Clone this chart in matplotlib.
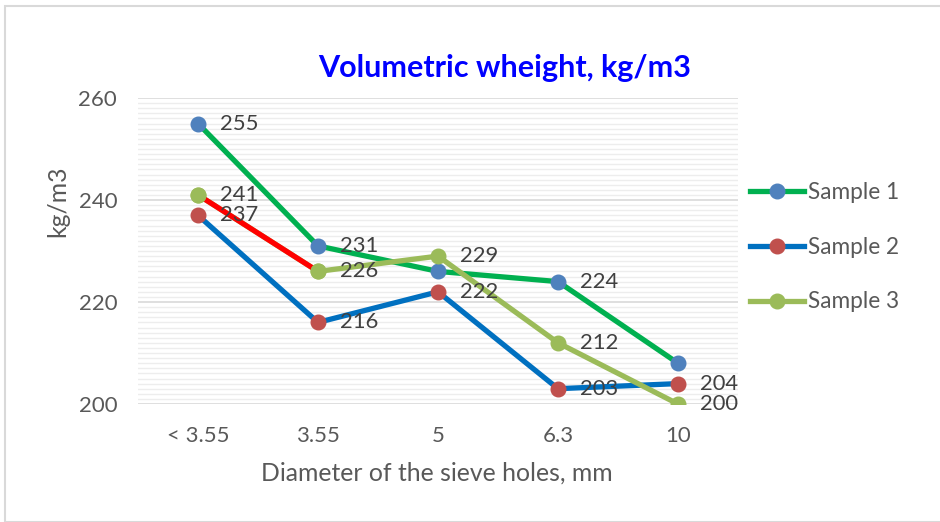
import matplotlib
matplotlib.use('Agg')
import matplotlib.pyplot as plt
from matplotlib.patches import Rectangle
from matplotlib.lines import Line2D
from matplotlib.ticker import MultipleLocator

plt.rcParams['font.family'] = ['Lato', 'DejaVu Sans']

categories = ['< 3.55', '3.55', '5', '6.3', '10']
sample1 = [255, 231, 226, 224, 208]
sample2 = [237, 216, 222, 203, 204]
sample3 = [241, 226, 229, 212, 200]
# labels that Excel actually shows (None = hidden)
labels1 = [255, 231, None, 224, None]
labels2 = [237, 216, 222, 203, 204]
labels3 = [241, 226, 229, 212, 200]

series = [
    ('Sample 1', sample1, labels1, '#00B050', '#4F81BD'),
    ('Sample 2', sample2, labels2, '#0070C0', '#C0504D'),
    ('Sample 3', sample3, labels3, '#9BBB59', '#9BBB59'),
]

fig = plt.figure(figsize=(9.4, 5.22), dpi=100)
fig.patches.append(Rectangle((5 / 940, 0.5 / 522), 2, (516 - 0.5) / 522,
                             transform=fig.transFigure, fill=False,
                             edgecolor='#D9D9D9', linewidth=1.5))

ax = fig.add_axes([138 / 940, 118 / 522, 600 / 940, 306 / 522])
x = list(range(len(categories)))

for name, vals, labs, lc, mc in series:
    ax.plot(x, vals, color=lc, linewidth=3.8, solid_capstyle='round', zorder=3)
    ax.plot(x, vals, linestyle='none', marker='o', markersize=10.5,
            markerfacecolor=mc, markeredgecolor=mc, zorder=5)
    for xi, v, lab in zip(x, vals, labs):
        if lab is None:
            continue
        ax.annotate(str(lab), (xi, v), xytext=(16, 0), textcoords='offset points',
                    ha='left', va='center', fontsize=15.8, color='#404040', zorder=6)

# first segment of sample 3 is drawn red in the source chart
ax.plot(x[:2], sample3[:2], color='#FF0000', linewidth=3.8,
        solid_capstyle='round', zorder=4)
ax.plot(x[:2], sample3[:2], linestyle='none', marker='o', markersize=10.5,
        markerfacecolor='#9BBB59', markeredgecolor='#9BBB59', zorder=5)

ax.set_xlim(-0.5, 4.5)
ax.set_ylim(200, 260)
ax.set_xticks(x)
ax.set_xticklabels(categories)
ax.yaxis.set_major_locator(MultipleLocator(20))
ax.yaxis.set_minor_locator(MultipleLocator(1))
ax.grid(which='major', axis='y', color='#D9D9D9', linewidth=1.2, zorder=0)
ax.grid(which='minor', axis='y', color='#EDEDED', linewidth=1.0, zorder=0)
ax.set_axisbelow(True)
for s in ax.spines.values():
    s.set_visible(False)
ax.tick_params(axis='both', which='both', length=0, labelsize=16,
               labelcolor='#595959')
ax.tick_params(axis='x', pad=16)
ax.tick_params(axis='y', pad=15)

fig.text(505 / 940, 1 - 68 / 522, 'Volumetric wheight, kg/m3', ha='center',
         va='center', fontsize=22, fontweight='bold', color='#0000FF')
fig.text(437 / 940, 1 - 473 / 522, 'Diameter of the sieve holes, mm',
         ha='center', va='center', fontsize=17.8, color='#595959')
fig.text(58 / 940, 1 - 201 / 522, 'kg/m3', ha='center', va='center',
         rotation=90, fontsize=17.8, color='#595959')

handles = [Line2D([0], [0], color=lc, linewidth=3.8, marker='o', markersize=10.5,
                  markerfacecolor=mc, markeredgecolor=mc)
           for name, vals, labs, lc, mc in series]
leg = fig.legend(handles, [s[0] for s in series], loc='center left',
                 bbox_to_anchor=(750 / 940, 1 - 247 / 522), frameon=False,
                 fontsize=16.3, labelspacing=1.5, handlelength=2.4,
                 handletextpad=0.18, borderaxespad=0, borderpad=0)
for t in leg.get_texts():
    t.set_color('#595959')

fig.savefig('out.png', dpi=100)
